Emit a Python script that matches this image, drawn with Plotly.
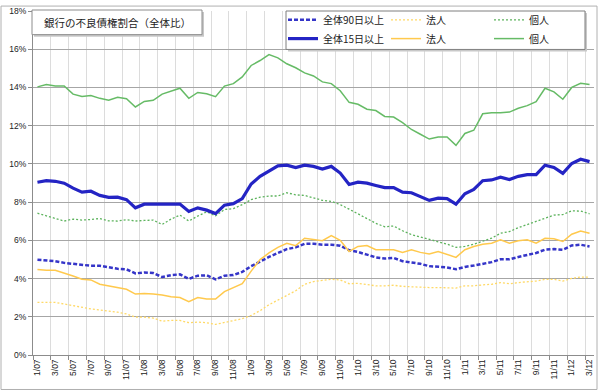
import plotly.graph_objects as go

months = [f"{m}/{y:02d}" for y in range(7, 13) for m in range(1, 13)][:63]

total90 = [4.99,4.96,4.91,4.82,4.77,4.74,4.67,4.67,4.60,4.51,
           4.48,4.27,4.32,4.29,4.08,4.18,4.22,3.98,4.15,4.17,
           3.96,4.15,4.18,4.35,4.65,4.91,5.13,5.34,5.54,5.63,
           5.82,5.82,5.77,5.77,5.72,5.48,5.39,5.25,5.11,5.05,
           5.08,4.91,4.84,4.77,4.65,4.61,4.58,4.49,4.61,4.68,
           4.77,4.86,5.01,5.01,5.13,5.25,5.34,5.51,5.54,5.51,
           5.73,5.77,5.68]
corp90 = [2.75,2.75,2.75,2.67,2.58,2.50,2.41,2.36,2.31,2.24,
          2.15,1.98,1.98,1.93,1.77,1.81,1.81,1.69,1.72,1.69,
          1.60,1.69,1.77,1.90,2.07,2.32,2.63,2.88,3.10,3.36,
          3.70,3.84,3.91,3.96,3.93,3.73,3.75,3.67,3.62,3.62,
          3.65,3.59,3.56,3.55,3.53,3.53,3.50,3.50,3.62,3.62,
          3.67,3.70,3.79,3.73,3.79,3.84,3.87,3.96,3.96,3.87,
          4.01,4.08,4.08]
person90 = [7.42,7.28,7.11,7.01,7.11,7.06,7.09,7.14,7.02,7.01,
            7.08,7.01,7.04,7.06,6.83,7.11,7.32,7.01,7.27,7.49,
            7.28,7.61,7.66,7.87,8.13,8.26,8.32,8.32,8.49,8.38,
            8.35,8.23,8.09,8.04,7.87,7.63,7.40,7.14,6.89,6.71,
            6.75,6.50,6.30,6.17,6.03,5.94,5.80,5.63,5.68,5.80,
            5.94,6.11,6.37,6.46,6.66,6.83,6.97,7.18,7.32,7.35,
            7.54,7.53,7.39]
total15 = [9.04,9.12,9.09,8.99,8.73,8.52,8.57,8.35,8.25,8.26,
           8.13,7.70,7.89,7.89,7.89,7.89,7.90,7.51,7.70,7.58,
           7.40,7.84,7.92,8.18,8.95,9.35,9.64,9.90,9.93,9.81,
           9.93,9.87,9.73,9.87,9.52,8.92,9.04,8.99,8.87,8.76,
           8.76,8.52,8.49,8.30,8.09,8.21,8.18,7.89,8.44,8.66,
           9.12,9.16,9.30,9.18,9.35,9.44,9.44,9.93,9.81,9.50,
           10.02,10.24,10.12]
corp15 = [4.48,4.43,4.43,4.30,4.13,3.96,3.93,3.70,3.62,3.53,
          3.44,3.19,3.22,3.19,3.14,3.05,3.01,2.79,3.01,2.93,
          2.93,3.32,3.53,3.73,4.39,4.99,5.34,5.63,5.85,5.72,
          6.11,6.03,5.98,6.25,6.00,5.42,5.68,5.73,5.51,5.51,
          5.51,5.37,5.51,5.37,5.28,5.42,5.28,5.11,5.51,5.68,
          5.80,5.85,6.03,5.85,5.98,6.03,5.85,6.11,6.08,5.94,
          6.32,6.49,6.37]
person15 = [14.03,14.15,14.08,14.08,13.65,13.53,13.58,13.43,13.33,13.48,
            13.41,12.98,13.27,13.33,13.65,13.79,13.96,13.43,13.74,13.67,
            13.52,14.07,14.20,14.55,15.15,15.41,15.72,15.55,15.24,15.03,
            14.76,14.60,14.29,14.20,13.83,13.22,13.12,12.86,12.79,12.48,
            12.45,12.16,11.80,11.55,11.30,11.41,11.41,10.97,11.59,11.76,
            12.62,12.67,12.67,12.71,12.91,13.05,13.26,13.96,13.77,13.38,
            14.00,14.22,14.15]

series = [
    ("全体90日以上", total90, "#3535C8", 2.5, "4px,2px", "legend"),
    ("法人", corp90, "#FFD966", 1.3, "2px,2px", "legend"),
    ("個人", person90, "#5DB35D", 1.3, "2px,2px", "legend"),
    ("全体15日以上", total15, "#2424C4", 3.2, "solid", "legend2"),
    ("法人", corp15, "#FFC94D", 1.5, "solid", "legend2"),
    ("個人", person15, "#66BB66", 1.5, "solid", "legend2"),
]

x = list(range(len(months)))
fig = go.Figure()
for name, vals, color, w, dash, lg in series:
    fig.add_trace(go.Scatter(x=x, y=vals, mode="lines", name=name,
                             line=dict(color=color, width=w, dash=dash),
                             legend=lg))

L, R, T, B = 33, 5, 6, 37
W, H = 599, 392
pw, ph = W - L - R, H - T - B

def px(xp):
    return (xp - L) / pw

def py(yp):
    return (H - B - yp) / ph

font_jp = "Noto Sans CJK JP"

shapes = [
    dict(type="rect", xref="paper", yref="paper", x0=px(1), x1=px(597), y0=py(390), y1=py(1),
         line=dict(color="#B0B0B0", width=1), fillcolor="rgba(0,0,0,0)", layer="below"),
    dict(type="rect", xref="paper", yref="paper", x0=px(34), x1=px(204), y0=py(32), y1=py(7),
         line=dict(width=0), fillcolor="#C8C8C8", layer="above"),
    dict(type="rect", xref="paper", yref="paper", x0=px(32), x1=px(202), y0=py(30), y1=py(5),
         line=dict(color="#8C8C8C", width=1), fillcolor="white", layer="above"),
    dict(type="rect", xref="paper", yref="paper", x0=px(288), x1=px(587), y0=py(47), y1=py(8),
         line=dict(width=0), fillcolor="#C8C8C8", layer="above"),
    dict(type="rect", xref="paper", yref="paper", x0=px(286), x1=px(585), y0=py(45), y1=py(6),
         line=dict(color="#7F7F7F", width=1), fillcolor="white", layer="above"),
]

fig.update_layout(
    width=W, height=H,
    margin=dict(l=L, r=R, t=T, b=B),
    paper_bgcolor="white", plot_bgcolor="white",
    font=dict(family=font_jp, size=10, color="#222222"),
    shapes=shapes,
    annotations=[dict(text="銀行の不良債権割合（全体比）", xref="paper", yref="paper",
                      x=px(117), y=py(17.5), xanchor="center", yanchor="middle",
                      showarrow=False, font=dict(family=font_jp, size=10.5, color="#222222"))],
    legend=dict(orientation="h", x=px(283), y=py(15), xanchor="left", yanchor="middle",
                bgcolor="rgba(0,0,0,0)", borderwidth=0, entrywidth=58,
                font=dict(family=font_jp, size=10, color="#222222")),
    legend2=dict(orientation="h", x=px(283), y=py(34), xanchor="left", yanchor="middle",
                 bgcolor="rgba(0,0,0,0)", borderwidth=0, entrywidth=58,
                 font=dict(family=font_jp, size=10, color="#222222")),
    xaxis=dict(range=[-0.5, len(months) - 0.5], tickmode="array",
               tickvals=x[::2], ticktext=months[::2], tickangle=-90,
               tickfont=dict(family="Liberation Sans", size=8.5, color="#222222"),
               showgrid=False, ticks="", showline=True, linecolor="#8C8C8C", linewidth=1,
               zeroline=False,
               minor=dict(tick0=-0.5, dtick=2, showgrid=True, gridcolor="#DCDCDC", gridwidth=1.3,
                          ticks="outside", ticklen=4, tickcolor="#8C8C8C")),
    yaxis=dict(range=[0, 18], dtick=2, ticksuffix="%", showgrid=True, gridcolor="#A6A6A6",
               gridwidth=1, showline=True, linecolor="#8C8C8C", linewidth=1, zeroline=False,
               ticks="outside", ticklen=4, tickcolor="#8C8C8C",
               tickfont=dict(family="Liberation Sans", size=8.5, color="#222222")),
)

fig.write_html("out.html", config={"displayModeBar": False},
               post_script="document.body.style.margin='0';")
